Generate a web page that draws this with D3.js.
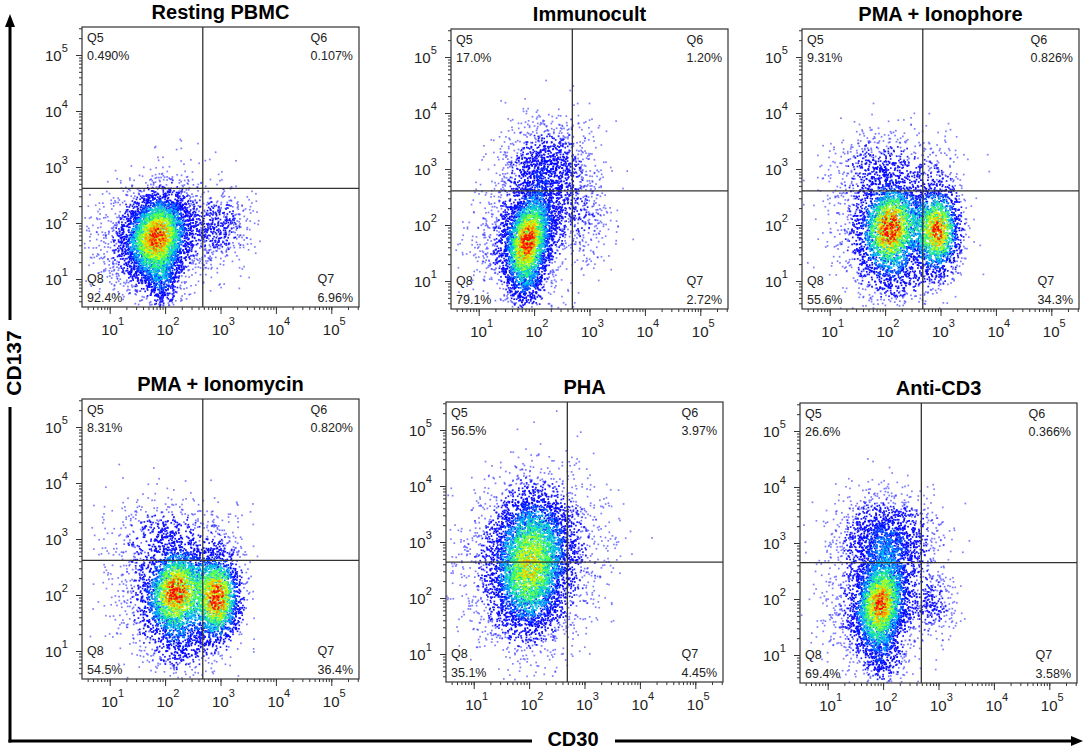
<!DOCTYPE html>
<html><head><meta charset="utf-8">
<script src="https://cdn.jsdelivr.net/npm/d3@7"></script>
<style>body{margin:0;background:#fff}svg{display:block;font-family:Arial,"Liberation Sans",sans-serif}</style>
</head><body>
<script>
// ---------- data ----------
const panelTitles = ["Resting PBMC","Immunocult","PMA + Ionophore","PMA + Ionomycin","PHA","Anti-CD3"];
const q5Values = ["0.490%","17.0%","9.31%","8.31%","56.5%","26.6%"];
const q6Values = ["0.107%","1.20%","0.826%","0.820%","3.97%","0.366%"];
const q7Values = ["6.96%","2.72%","34.3%","36.4%","4.45%","3.58%"];
const q8Values = ["92.4%","79.1%","55.6%","54.5%","35.1%","69.4%"];
// quadrant gate positions (log10 units)
const gateX = [2.68,2.69,2.68,2.68,2.69,2.69];
const gateY = [2.62,2.61,2.61,2.62,2.64,2.65];
// highest density colour level reached in each panel (1 = red)
const peakLevel = [0.97,0.97,1,1,0.8,0.93];
// decade ticks
const decadeTicks = [1,2,3,4,5];
const axisRange = [0.5,5.5];
// event clouds: [centre log x, centre log y, spread x, spread y, correlation, share of events]
const clusterResting = [[1.85,1.75,0.3,0.4,0.2,0.55],[1.8,1.75,0.55,0.5,0.1,0.25],[1.95,0.95,0.16,0.28,0,0.07],[3.0,1.95,0.3,0.35,0,0.08],[2.1,2.9,0.5,0.35,0,0.006]];
const clusterImmunocult = [[1.88,1.7,0.22,0.42,0.3,0.4],[1.85,1.85,0.5,0.55,0.1,0.21],[2.2,2.95,0.4,0.48,0,0.23],[1.9,0.95,0.2,0.3,0,0.07],[2.95,2.1,0.28,0.38,0,0.035],[3.0,3.2,0.35,0.45,0,0.01]];
const clusterIonophore = [[2.1,1.95,0.27,0.4,0.1,0.34],[2.0,1.9,0.5,0.55,0.1,0.17],[2.95,1.9,0.22,0.42,0,0.31],[1.9,3.0,0.5,0.38,0,0.1],[2.2,1.1,0.32,0.3,0,0.06],[3.0,3.0,0.3,0.35,0,0.012]];
const clusterIonomycin = [[2.2,2.05,0.27,0.4,0.1,0.33],[2.1,1.95,0.5,0.55,0.1,0.18],[2.95,1.95,0.22,0.42,0,0.33],[1.95,3.05,0.5,0.38,0,0.09],[2.3,1.1,0.32,0.3,0,0.06],[3.05,3.0,0.3,0.4,0,0.012]];
const clusterPHA = [[2.0,2.45,0.34,0.62,0.1,0.45],[2.05,2.7,0.6,0.75,0.05,0.45],[2.15,3.25,0.4,0.45,0,0.1]];
const clusterAntiCD3 = [[1.95,1.9,0.25,0.42,0.2,0.4],[1.9,1.95,0.5,0.55,0.1,0.18],[2.05,3.05,0.45,0.42,0,0.28],[2.0,1.0,0.22,0.3,0,0.07],[2.95,1.9,0.22,0.32,0,0.04]];
const panelClusters = [clusterResting,clusterImmunocult,clusterIonophore,clusterIonomycin,clusterPHA,clusterAntiCD3];
const eventCount = 5600;

// ---------- layout ----------
const W = 277, H = 280;
const layout = [{x:82,y:27},{x:451,y:29},{x:802,y:29},{x:82,y:399},{x:446,y:402},{x:800,y:403}];

function mulberry32(a){return function(){a|=0;a=a+0x6D2B79F5|0;let t=Math.imul(a^a>>>15,1|a);t=t+Math.imul(t^t>>>7,61|t)^t;return((t^t>>>14)>>>0)/4294967296;}}

const svg = d3.select("body").append("svg").attr("width",1084).attr("height",750);
svg.append("rect").attr("width",1084).attr("height",750).attr("fill","#fff");

const jet = d3.scaleLinear()
  .domain([0,0.22,0.4,0.58,0.76,0.9,1])
  .range(["#2a2aff","#0000ff","#00c0ff","#30ff60","#e8ff00","#ff8800","#ff0000"])
  .clamp(true);

const minorTicks = [];
for (let d=0; d<=5; d++) for (let m=1; m<=9; m++) { const l = d+Math.log10(m); if (l>=axisRange[0] && l<=axisRange[1]) minorTicks.push(m*Math.pow(10,d)); }
const majorTicks = decadeTicks.map(d=>Math.pow(10,d));

function mixturePdf(cl, lx, ly){
  let s=0;
  cl.forEach(c=>{
    const dx=(lx-c[0])/c[2], dy=(ly-c[1])/c[3], r=c[4];
    const q=(dx*dx-2*r*dx*dy+dy*dy)/(1-r*r);
    s += c[5]*Math.exp(-q/2)/(c[2]*c[3]*Math.sqrt(1-r*r));
  });
  return s;
}

panelTitles.forEach((title,i)=>{
  const L = layout[i];
  const g = svg.append("g").attr("transform",`translate(${L.x},${L.y})`);
  const x = d3.scaleLog().domain(axisRange.map(v=>Math.pow(10,v))).range([0,W]);
  const y = d3.scaleLog().domain(axisRange.map(v=>Math.pow(10,v))).range([H,0]);

  // events
  const rng = mulberry32(9001 + i*131);
  const gauss = ()=>{ const u=Math.max(rng(),1e-9), v=rng(); return Math.sqrt(-2*Math.log(u))*Math.cos(2*Math.PI*v); };
  const pts = [];
  const cl = panelClusters[i];
  cl.forEach(c=>{
    const n = Math.round(c[5]*eventCount);
    for (let k=0;k<n;k++){
      const z1=gauss(), z2=gauss();
      const lx = c[0]+c[2]*z1;
      const ly = c[1]+c[3]*(c[4]*z1+Math.sqrt(1-c[4]*c[4])*z2);
      if (lx>axisRange[0]+0.01 && lx<axisRange[1] && ly>axisRange[0]+0.01 && ly<axisRange[1])
        pts.push({vx:Math.pow(10,lx), vy:Math.pow(10,ly), d:mixturePdf(cl,lx,ly)*(0.58+0.84*rng())});
    }
  });
  const maxD = d3.max(pts,p=>p.d)*0.9/peakLevel[i];
  pts.sort((a,b)=>a.d-b.d);
  g.append("g").selectAll("rect").data(pts).join("rect")
    .attr("x",p=>x(p.vx)-0.85).attr("y",p=>y(p.vy)-0.85)
    .attr("width",1.7).attr("height",1.7)
    .attr("fill",p=>jet(p.d/maxD))
    .attr("fill-opacity",p=>p.d/maxD<0.07?0.6:1);

  // frame & gates
  g.append("rect").attr("width",W).attr("height",H).attr("fill","none").attr("stroke","#333").attr("stroke-width",1.2);
  const gx = x(Math.pow(10,gateX[i])), gy = y(Math.pow(10,gateY[i]));
  g.append("line").attr("x1",gx).attr("x2",gx).attr("y1",0).attr("y2",H).attr("stroke","#333").attr("stroke-width",1.3);
  g.append("line").attr("x1",0).attr("x2",W).attr("y1",gy).attr("y2",gy).attr("stroke","#333").attr("stroke-width",1.3);

  // axes
  const styleAxis = s=>{ s.select(".domain").remove(); s.selectAll("line").attr("stroke","#333").attr("stroke-width",1); };
  g.append("g").attr("transform",`translate(0,${H})`).call(d3.axisBottom(x).tickValues(minorTicks).tickSize(3).tickFormat("")).call(styleAxis);
  g.append("g").attr("transform",`translate(0,${H})`).call(d3.axisBottom(x).tickValues(majorTicks).tickSize(7).tickFormat("")).call(styleAxis);
  g.append("g").call(d3.axisLeft(y).tickValues(minorTicks).tickSize(3).tickFormat("")).call(styleAxis);
  g.append("g").call(d3.axisLeft(y).tickValues(majorTicks).tickSize(6).tickFormat("")).call(styleAxis);

  majorTicks.forEach((v,k)=>{
    const tx = g.append("text").attr("x",x(v)-8.5).attr("y",H+28).attr("font-size",15).attr("fill","#222").text("10");
    tx.append("tspan").attr("dy",-10).attr("font-size",11).text(decadeTicks[k]);
    const ty = g.append("text").attr("x",-37).attr("y",y(v)+5.5).attr("font-size",15).attr("fill","#222").text("10");
    ty.append("tspan").attr("dy",-8.5).attr("font-size",11).text(decadeTicks[k]);
  });

  // title
  g.append("text").attr("x",W/2).attr("y",-8).attr("text-anchor","middle").attr("font-size",20).attr("font-weight","bold").attr("fill","#000").text(title);

  // quadrant labels
  const qt = (tx,ty,s,anchor)=>g.append("text").attr("x",tx).attr("y",ty).attr("font-size",12.5).attr("fill","#222").attr("text-anchor",anchor||"start").text(s);
  qt(5,15,"Q5"); qt(5,33,q5Values[i]);
  qt(5,H-24,"Q8"); qt(5,H-5,q8Values[i]);
  const p6 = qt(W-6,33,q6Values[i],"end"); const w6 = p6.node().getComputedTextLength();
  qt(W-6-w6,15,"Q6");
  const p7 = qt(W-6,H-5,q7Values[i],"end"); const w7 = p7.node().getComputedTextLength();
  qt(W-6-w7,H-24,"Q7");
});

// outer axis arrows
const ax = svg.append("g").attr("stroke","#000").attr("stroke-width",3);
ax.append("line").attr("x1",10).attr("x2",10).attr("y1",742.5).attr("y2",407);
ax.append("line").attr("x1",10).attr("x2",10).attr("y1",320).attr("y2",24);
ax.append("line").attr("x1",8.5).attr("x2",532).attr("y1",741).attr("y2",741);
ax.append("line").attr("x1",615).attr("x2",1074).attr("y1",741).attr("y2",741);
svg.append("path").attr("d","M10,14 L5,27 L15,27 Z").attr("fill","#000");
svg.append("path").attr("d","M1083,741 L1071,736 L1071,746 Z").attr("fill","#000");
svg.append("text").attr("transform","translate(21,363) rotate(-90)").attr("text-anchor","middle").attr("font-size",21).attr("font-weight","bold").text("CD137");
svg.append("text").attr("x",573).attr("y",746).attr("text-anchor","middle").attr("font-size",20).attr("font-weight","bold").text("CD30");
</script>
</body></html>
